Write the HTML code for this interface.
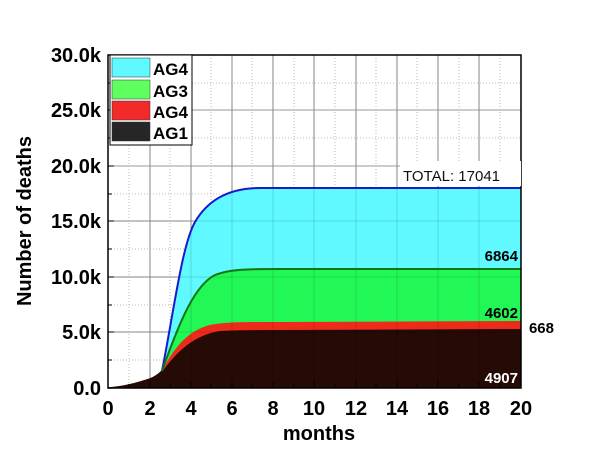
<!DOCTYPE html>
<html><head><style>body{margin:0;background:#fff}svg{display:block}</style></head><body>
<svg width="609" height="467" xmlns="http://www.w3.org/2000/svg" font-family="Liberation Sans, Arial, sans-serif">
<rect width="609" height="467" fill="#fff"/>
<g stroke="#999" stroke-width="1">
<path d="M150,55V388M191,55V388M232,55V388M273,55V388M314,55V388M356,55V388M397,55V388M438,55V388M479,55V388"/>
<path d="M108,332H521M108,277H521M108,221H521M108,166H521M108,110H521"/>
</g>
<g stroke="#bbb" stroke-width="1" stroke-dasharray="1,2">
<path d="M129,55V388M170,55V388M211,55V388M252,55V388M294,55V388M335,55V388M376,55V388M417,55V388M459,55V388M500,55V388"/>
<path d="M108,360H521M108,305H521M108,249H521M108,194H521M108,138H521M108,83H521"/>
</g>
<path d="M108,388 C120,387.5 135,384 150,379 C155,377 159,374 162,371 C174,310 182,245 195,222 C210,196 235,188 260,188 L521,188 L521,388Z" fill="#5ff9ff"/>
<path d="M108,388 C120,387.5 135,384 150,379 C155,377 159,374 162,371 C180,320 195,285 215,275 C230,269 250,269 280,269 L521,269 L521,388Z" fill="#22f855"/>
<path d="M108,388 C120,387.5 135,384 150,379 C155,377 159,374 162,371 C175,345 190,330 210,325 C225,322 245,322 280,322 L521,321 L521,388Z" fill="#ee2a1a"/>
<path d="M108,388 C120,387.5 135,384 150,379 C155,377 159,374 162,372 C178,350 195,335 220,331 C240,330 260,330 280,330 L521,329 L521,388Z" fill="#250a05"/>
<g stroke="rgba(0,0,0,0.12)" stroke-width="1">
<path d="M150,55V388M191,55V388M232,55V388M273,55V388M314,55V388M356,55V388M397,55V388M438,55V388M479,55V388"/>
<path d="M108,332H521M108,277H521M108,221H521"/>
</g>
<path d="M162,371 C174,310 182,245 195,222 C210,196 235,188 260,188 L521,188" fill="none" stroke="#1a1acc" stroke-width="2"/>
<path d="M162,371 C180,320 195,285 215,275 C230,269 250,269 280,269 L521,269" fill="none" stroke="#117711" stroke-width="2"/>
<path d="M108,388 C120,387.5 135,384 150,379 C155,377 159,374 162,371" fill="none" stroke="#250a05" stroke-width="1.5"/>
<rect x="108" y="55" width="413" height="333" fill="none" stroke="#000" stroke-width="1.5"/>
<g stroke="#000" stroke-width="1">
<path d="M108,388v-6M129,388v-4M150,388v-6M170,388v-4M191,388v-6M211,388v-4M232,388v-6M252,388v-4M273,388v-6M294,388v-4M314,388v-6M335,388v-4M356,388v-6M376,388v-4M397,388v-6M417,388v-4M438,388v-6M459,388v-4M479,388v-6M500,388v-4M521,388v-6"/>
<path d="M108,332h6M108,277h6M108,221h6M108,166h6M108,110h6M108,55h6M108,360h4M108,305h4M108,249h4M108,194h4M108,138h4M108,83h4"/>
</g>
<rect x="110" y="55" width="82" height="90" fill="#fff" stroke="#000" stroke-width="1"/>
<rect x="112" y="58" width="38" height="19" fill="#5ff9ff" stroke="#333" stroke-width="0.5"/>
<rect x="112" y="80" width="38" height="19" fill="#5eff5e" stroke="#333" stroke-width="0.5"/>
<rect x="112" y="101" width="38" height="19" fill="#f22a2a" stroke="#333" stroke-width="0.5"/>
<rect x="112" y="122" width="38" height="19" fill="#262626" stroke="#333" stroke-width="0.5"/>
<g font-weight="bold" font-size="17" fill="#000">
<text x="153" y="75">AG4</text><text x="153" y="97">AG3</text><text x="153" y="118">AG4</text><text x="153" y="139">AG1</text>
</g>
<rect x="400" y="161" width="121" height="25" fill="#fff"/>
<text x="403" y="181" font-size="15" fill="#111">TOTAL: 17041</text>
<g font-weight="bold" font-size="15" text-anchor="end">
<text x="518" y="261" fill="#000">6864</text>
<text x="518" y="318" fill="#000">4602</text>
<text x="554" y="333" fill="#000">668</text>
<text x="518" y="383" fill="#fff">4907</text>
</g>
<g font-weight="bold" font-size="20" text-anchor="end" fill="#000">
<text x="101" y="395">0.0</text><text x="101" y="339">5.0k</text><text x="101" y="284">10.0k</text><text x="101" y="228">15.0k</text><text x="101" y="173">20.0k</text><text x="101" y="117">25.0k</text><text x="101" y="62">30.0k</text>
</g>
<g font-weight="bold" font-size="20" text-anchor="middle" fill="#000">
<text x="108" y="415">0</text><text x="150" y="415">2</text><text x="191" y="415">4</text><text x="232" y="415">6</text><text x="273" y="415">8</text><text x="314" y="415">10</text><text x="356" y="415">12</text><text x="397" y="415">14</text><text x="438" y="415">16</text><text x="479" y="415">18</text><text x="521" y="415">20</text>
<text x="319" y="440">months</text>
<text transform="translate(31,221) rotate(-90)">Number of deaths</text>
</g>
</svg>
</body></html>
